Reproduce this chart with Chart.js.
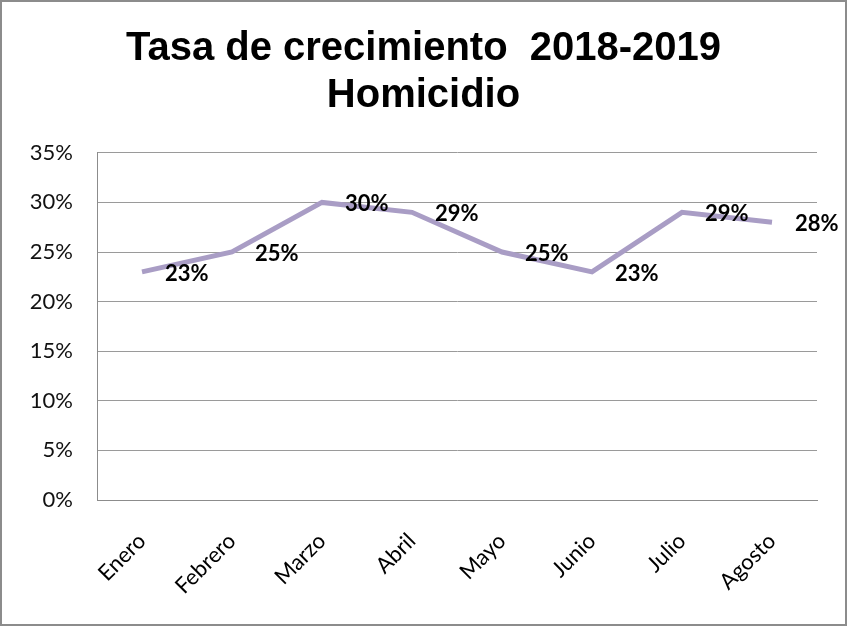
<!DOCTYPE html>
<html>
<head>
<meta charset="utf-8">
<script src="https://cdn.jsdelivr.net/npm/chart.js@4"></script>
<style>
  html, body { margin: 0; padding: 0; background: #fff; }
  #wrap {
    position: absolute; left: 0; top: 0;
    width: 847px; height: 626px;
    box-sizing: border-box;
    border: 2px solid #8c8c8c;
  }
</style>
</head>
<body>
<div id="wrap"><canvas id="myChart"></canvas></div>
<script>
// datos
const meses = ["Enero", "Febrero", "Marzo", "Abril", "Mayo", "Junio", "Julio", "Agosto"];
const tasa = [23, 25, 30, 29, 25, 23, 29, 28];
const titulo = ["Tasa de crecimiento  2018-2019", "Homicidio"];

const fuente = "Lato, 'Open Sans', sans-serif";

// etiquetas a la derecha de cada punto
const etiquetas = {
  id: "etiquetas",
  afterDatasetsDraw(chart) {
    const ctx = chart.ctx;
    const meta = chart.getDatasetMeta(0);
    ctx.save();
    ctx.font = "bold 22px " + fuente;
    ctx.fillStyle = "#000";
    ctx.textAlign = "left";
    ctx.textBaseline = "middle";
    meta.data.forEach((pt, i) => {
      ctx.fillText(chart.data.datasets[0].data[i] + "%", pt.x + 23, pt.y + 2);
    });
    ctx.restore();
  }
};

const ctx = document.getElementById("myChart").getContext("2d");
const myChart = new Chart(ctx, {
  type: "line",
  data: {
    labels: meses,
    datasets: [
      {
        data: tasa,
        borderColor: "#a99dc5",
        borderWidth: 5,
        pointRadius: 0,
        tension: 0,
        fill: false
      }
    ]
  },
  options: {
    responsive: true,
    maintainAspectRatio: false,
    animation: false,
    layout: { padding: { left: 28, right: 28, top: 0, bottom: 0 } },
    plugins: {
      legend: { display: false },
      tooltip: { enabled: false },
      title: {
        display: true,
        text: titulo,
        color: "#000",
        font: { family: "'Liberation Sans', Arial, sans-serif", size: 40, weight: "bold", lineHeight: 1.16 },
        padding: { top: 24, bottom: 34 }
      }
    },
    scales: {
      x: {
        offset: true,
        grid: { display: false, drawTicks: false },
        border: { color: "#8c8c8c", width: 1 },
        ticks: {
          color: "#000",
          font: { family: fuente, size: 22 },
          minRotation: 45,
          maxRotation: 45,
          padding: 28
        },
        afterFit(scale) { scale.height = 124; }
      },
      y: {
        min: 0,
        max: 35,
        grid: { color: "#9a9a9a", lineWidth: 1, drawTicks: false },
        border: { color: "#8c8c8c", width: 1 },
        ticks: {
          stepSize: 5,
          color: "#111",
          font: { family: fuente, size: 22 },
          padding: 24,
          callback: v => v + "%"
        },
        afterFit(scale) { scale.width = 67; }
      }
    }
  },
  plugins: [etiquetas]
});
</script>
</body>
</html>
